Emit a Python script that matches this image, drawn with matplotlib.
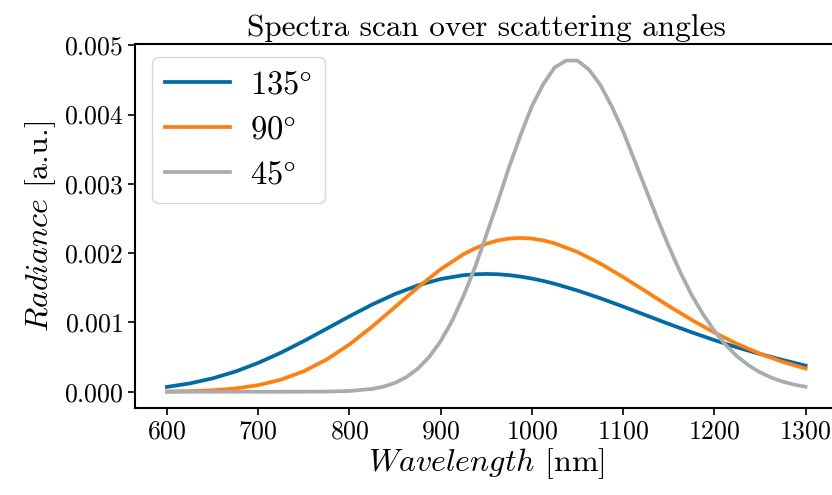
import matplotlib
matplotlib.use('Agg')
import matplotlib.pyplot as plt

plt.rcParams['font.family'] = 'serif'
plt.rcParams['font.serif'] = ['cmr10']
plt.rcParams['mathtext.fontset'] = 'cm'
plt.rcParams['axes.formatter.use_mathtext'] = True
plt.rcParams['axes.unicode_minus'] = False

# wavelengths [nm]
wl = [600, 625, 650, 675, 700, 725, 750, 775, 800, 825, 850, 875, 900, 925, 937.5,
      950, 962.5, 975, 987.5, 1000, 1012.5, 1025, 1050, 1075, 1100, 1125, 1150,
      1175, 1200, 1225, 1250, 1275, 1300]

rad_135 = [0.000070, 0.000120, 0.000193, 0.000291, 0.000416, 0.000564, 0.000731,
           0.000909, 0.001088, 0.001259, 0.001410, 0.001535, 0.001627, 0.001682,
           0.001695, 0.001700, 0.001696, 0.001683, 0.001662, 0.001634, 0.001599,
           0.001558, 0.001461, 0.001350, 0.001229, 0.001104, 0.000979, 0.000859,
           0.000745, 0.000640, 0.000545, 0.000458, 0.000377]

rad_90 = [0.000003, 0.000008, 0.000021, 0.000047, 0.000095, 0.000174, 0.000296,
          0.000465, 0.000682, 0.000940, 0.001222, 0.001506, 0.001768, 0.001984,
          0.002068, 0.002135, 0.002183, 0.002211, 0.002220, 0.002211, 0.002184,
          0.002142, 0.002017, 0.001850, 0.001655, 0.001447, 0.001238, 0.001038,
          0.000855, 0.000691, 0.000550, 0.000431, 0.000335]

# 45 deg is narrow, read more densely where it bends
wl_45 = [600, 650, 700, 725, 750, 775, 800, 825, 837.5, 850, 862.5, 875, 887.5,
         900, 912.5, 925, 937.5, 950, 962.5, 975, 987.5, 1000, 1012.5, 1025, 1037.5,
         1050, 1062.5, 1075, 1087.5, 1100, 1112.5, 1125, 1137.5, 1150, 1162.5, 1175,
         1187.5, 1200, 1212.5, 1225, 1237.5, 1250, 1262.5, 1275, 1287.5, 1300]

rad_45 = [0.0, 0.0, 0.0, 0.0000001, 0.0000004, 0.0000023, 0.000011, 0.000041,
          0.000074, 0.000128, 0.000211, 0.000333, 0.000503, 0.00073, 0.00102, 0.00138,
          0.00179, 0.00226, 0.00274, 0.00324, 0.00370, 0.00412, 0.00444, 0.00468,
          0.00478, 0.00478, 0.00465, 0.00443, 0.00412, 0.00376, 0.00334, 0.00292,
          0.00250, 0.00210, 0.00173, 0.00140, 0.00112, 0.00088, 0.000674, 0.00051,
          0.000382, 0.00028, 0.000204, 0.000146, 0.000103, 0.000072]

labels = [r'$135\degree$', r'$90\degree$', r'$45\degree$']
colors = ['#006BA4', '#FF800E', '#ABABAB']

fig = plt.figure(figsize=(8.32, 4.95), dpi=100)
ax = fig.add_axes([135 / 832, 1 - 408.3 / 495, (837.5 - 135) / 832, 364.3 / 495])

ax.plot(wl, rad_135, color=colors[0], lw=2.7, label=labels[0])
ax.plot(wl, rad_90, color=colors[1], lw=2.7, label=labels[1])
ax.plot(wl_45, rad_45, color=colors[2], lw=2.7, label=labels[2])

ax.set_xticks([600, 700, 800, 900, 1000, 1100, 1200, 1300])
ax.set_yticks([0.000, 0.001, 0.002, 0.003, 0.004, 0.005])
ax.tick_params(labelsize=18.5, width=1.2, length=5)
for s in ax.spines.values():
    s.set_linewidth(1.5)

ax.set_title('Spectra scan over scattering angles', fontsize=22.5, pad=6)
ax.set_xlabel(r'$Wavelength$ [nm]', fontsize=23, labelpad=2)
ax.set_ylabel(r'$Radiance$ [a.u.]', fontsize=23)
ax.legend(loc='upper left', fontsize=23.5, bbox_to_anchor=(0.0242, 0.9643),
          borderaxespad=0, handletextpad=0.6)

fig.savefig('out.png', dpi=100)
